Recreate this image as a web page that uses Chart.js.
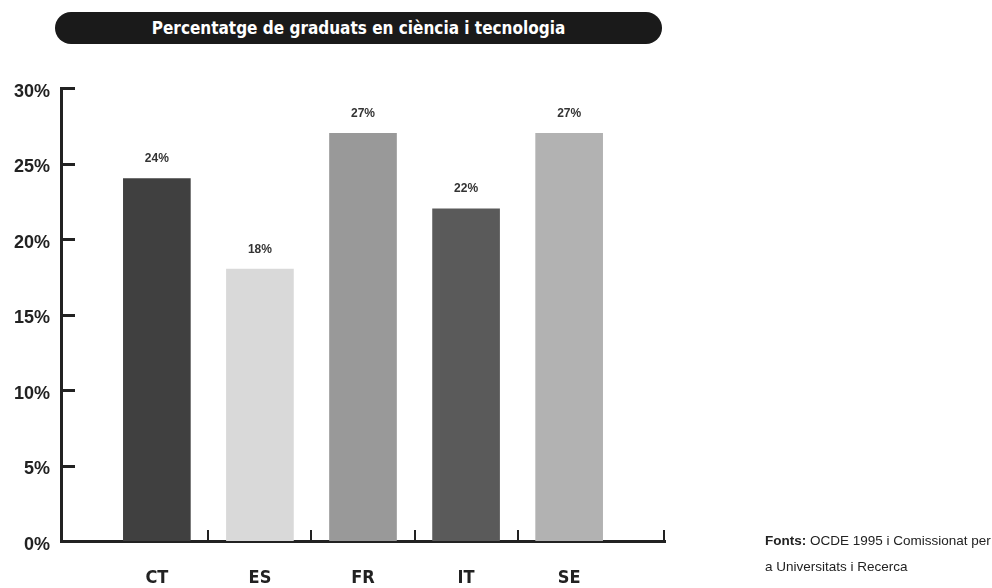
<!DOCTYPE html>
<html>
<head>
<meta charset="utf-8">
<script src="https://cdn.jsdelivr.net/npm/chart.js@4/dist/chart.umd.min.js"></script>
<style>
  html, body { margin: 0; padding: 0; background: #fff; }
  #wrap { position: relative; width: 992px; height: 588px; }
  #chart { position: absolute; left: 0; top: 0; }
  .title {
    position: absolute; left: 55px; top: 12px; width: 607px; height: 32px;
    background: #1a1a1a; border-radius: 16px; color: #fff;
    font: bold 17px "DejaVu Sans Condensed", "Liberation Sans", sans-serif;
    text-align: center; line-height: 32px;
  }
  .source {
    position: absolute; left: 765px; top: 528px;
    font: 13.5px "Liberation Sans", Arial, sans-serif; color: #222; line-height: 26px;
  }
</style>
</head>
<body>
<div id="wrap">
  <canvas id="chart" width="992" height="588"></canvas>
  <div class="title">Percentatge de graduats en ciència i tecnologia</div>
  <div class="source"><b>Fonts:</b> OCDE 1995 i Comissionat per<br>a Universitats i Recerca</div>
</div>
<script>
var categories = ['CT', 'ES', 'FR', 'IT', 'SE'];
var values = [24, 18, 27, 22, 27];
var barColors = ['#404040', '#d9d9d9', '#999999', '#5a5a5a', '#b2b2b2'];
var yTicks = [0, 5, 10, 15, 20, 25, 30];

var points = categories.map(function(c, i) { return { x: i + 1, y: values[i] }; });

// short tick marks drawn inside the plot area, plus value labels
var axisMarks = {
  id: 'axisMarks',
  afterDatasetsDraw: function(chart) {
    var ctx = chart.ctx, xs = chart.scales.x, ys = chart.scales.y;
    var area = chart.chartArea;
    ctx.save();
    ctx.strokeStyle = '#222';
    ctx.lineWidth = 3;
    yTicks.forEach(function(v) {
      if (v === 0) return;
      var y = Math.round(ys.getPixelForValue(v)) + 0.5;
      ctx.beginPath();
      ctx.moveTo(area.left, y);
      ctx.lineTo(area.left + 14, y);
      ctx.stroke();
    });
    ctx.lineWidth = 2;
    var marks = [];
    for (var i = 1; i < categories.length; i++) marks.push(xs.getPixelForValue(i + 0.5));
    marks.push(area.right - 1);
    marks.forEach(function(x) {
      x = Math.round(x);
      ctx.beginPath();
      ctx.moveTo(x, area.bottom);
      ctx.lineTo(x, area.bottom - 11);
      ctx.stroke();
    });

    ctx.fillStyle = '#333';
    ctx.font = 'bold 12px "Liberation Sans", Arial, sans-serif';
    ctx.textAlign = 'center';
    ctx.textBaseline = 'bottom';
    chart.getDatasetMeta(0).data.forEach(function(bar, i) {
      ctx.fillText(values[i] + '%', bar.x, bar.y - 14);
    });
    ctx.restore();
  }
};

new Chart(document.getElementById('chart').getContext('2d'), {
  type: 'bar',
  data: {
    datasets: [{
      data: points,
      backgroundColor: barColors,
      barThickness: 67
    }]
  },
  options: {
    responsive: false,
    animation: false,
    layout: { padding: { top: 88, right: 327, left: 0, bottom: 0 } },
    plugins: { legend: { display: false }, tooltip: { enabled: false } },
    scales: {
      x: {
        type: 'linear',
        offset: false,
        min: 0.07,
        max: 5.93,
        grid: { display: false, drawTicks: false, tickLength: 0, offset: false },
        border: { display: true, color: '#222', width: 3 },
        afterBuildTicks: function(axis) {
          axis.ticks = categories.map(function(c, i) { return { value: i + 1 }; });
        },
        afterFit: function(axis) { axis.height = 47; },
        ticks: {
          autoSkip: false,
          maxRotation: 0,
          padding: 27,
          color: '#222',
          font: { family: '"DejaVu Sans Condensed", "Liberation Sans", sans-serif', size: 18, weight: 'bold' },
          callback: function(v) { return categories[v - 1]; }
        }
      },
      y: {
        min: 0,
        max: 30,
        grid: { display: false, drawTicks: false, tickLength: 0 },
        border: { display: true, color: '#222', width: 3 },
        afterBuildTicks: function(axis) {
          axis.ticks = yTicks.map(function(v) { return { value: v }; });
        },
        afterFit: function(axis) { axis.width = 61; },
        ticks: {
          padding: 11,
          labelOffset: 4,
          color: '#222',
          font: { family: '"Liberation Sans", Arial, sans-serif', size: 18, weight: 'bold' },
          callback: function(v) { return v + '%'; }
        }
      }
    }
  },
  plugins: [axisMarks]
});
</script>
</body>
</html>
